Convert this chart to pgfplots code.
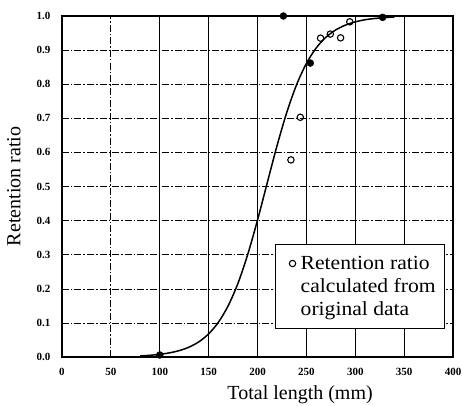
\documentclass[border=0pt]{standalone}
\usepackage{pgfplots}
\pgfplotsset{compat=1.18}
\usepackage{fontspec}
\setmainfont{Liberation Serif}
\newfontfamily\legfont[FakeStretch=1.08]{Liberation Serif}
\begin{document}
\begin{tikzpicture}
\begin{axis}[
  at={(0pt,0pt)}, anchor=south west,
  scale only axis, width=391pt, height=341pt,
  xmin=0, xmax=400, ymin=0, ymax=1,
  xtick={0,100,150,200,250,300,350,400}, ytick={0,0.1,...,1.0},
  extra x ticks={50},
  extra x tick style={grid style={black, line width=0.8pt, dash pattern=on 7pt off 2pt on 1.5pt off 2pt}},
  major tick length=0pt,
  /pgf/number format/assume math mode=true,
  yticklabel style={/pgf/number format/fixed, /pgf/number format/fixed zerofill, /pgf/number format/precision=1, xshift=-8pt},
  ticklabel style={font=\bfseries\fontsize{11}{13}\selectfont},
  xticklabel style={yshift=-8pt},
  axis line style={black, line width=1.3pt},
  xmajorgrids, ymajorgrids,
  x grid style={black, line width=1.1pt},
  y grid style={black, line width=0.6pt, dash pattern=on 7pt off 2pt on 1.5pt off 2pt},
  xlabel={Total length (mm)},
  ylabel={Retention ratio},
  label style={font=\fontsize{20}{22}\selectfont},
  xlabel style={at={(axis description cs:0.609,-0.112)}, anchor=center},
  ylabel style={at={(axis description cs:-0.123,0.5)}, anchor=center},
  legend style={at={(0.545,0.331)}, anchor=north west, draw=black, line width=0.8pt,
    font=\legfont\fontsize{20}{23}\selectfont,
    nodes={inner sep=0pt, text height=17pt, text depth=5pt},
    inner xsep=8.5pt, inner ysep=8pt, row sep=1pt, column sep=5pt},
  legend cell align=left,
]
\addplot[black, line width=1.5pt, smooth, forget plot] coordinates {
(80,0.0032) (90,0.0050) (100,0.0078) (110,0.0122) (120,0.0188) (130,0.0290)
(140,0.0445) (150,0.0678) (160,0.1018) (170,0.1502) (180,0.2160)
(190,0.3007) (200,0.4013) (210,0.5111) (220,0.6199) (230,0.7177)
(240,0.7986) (250,0.8608) (260,0.9061) (270,0.9377) (280,0.9591)
(290,0.9734) (300,0.9828) (310,0.9890) (320,0.9928) (330,0.9953) (340,0.9970)
};
\addplot[black, only marks, mark=*, mark size=3.5pt, forget plot] coordinates {
(226.5,1.0) (254,0.862) (328,0.996) (100,0.006)
};
\addplot[black, only marks, mark=o, mark size=3.2pt, line width=1.1pt,
  mark options={fill=white}] coordinates {
(234.2,0.578) (243.8,0.703) (264.5,0.935) (274.5,0.947) (285,0.936) (294.4,0.983)
};
\addlegendentry{Retention ratio}
\addlegendimage{empty legend}
\addlegendentry{calculated from}
\addlegendimage{empty legend}
\addlegendentry{original data}
\end{axis}
\pgfresetboundingbox
\useasboundingbox (-62pt,-48pt) rectangle (401pt,357pt);
\end{tikzpicture}
\end{document}
